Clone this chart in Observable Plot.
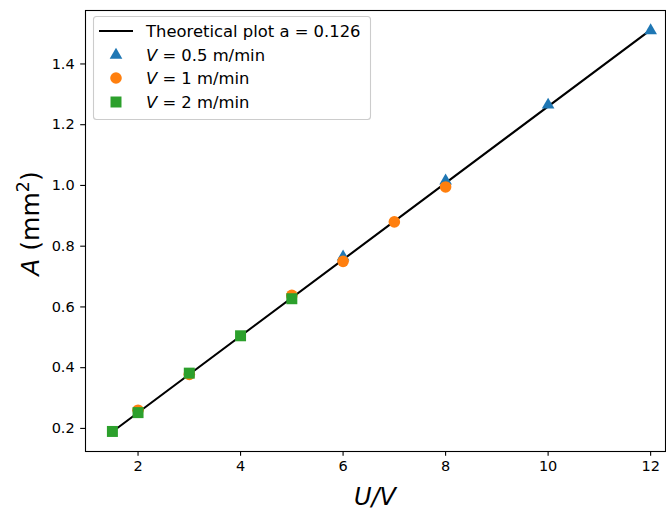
<!DOCTYPE html>
<html>
<head>
<meta charset="utf-8">
<script src="https://cdn.jsdelivr.net/npm/d3@7"></script>
<script src="https://cdn.jsdelivr.net/npm/@observablehq/plot@0.6"></script>
<style>
  body { margin: 0; background: #fff; }
  #chart svg { display: block; }
</style>
</head>
<body>
<div id="chart"></div>
<script>
// Slope of the theoretical relation A = a * (U/V)
const a = 0.126;
const theoryU = [1.5, 12];

// Measured cross-sections A (mm²) against U/V for each feed speed
const slowU = [6, 8, 10, 12];                 // V = 0.5 m/min
const slowA = [0.765, 1.015, 1.265, 1.51];
const midU = [2, 3, 5, 6, 7, 8];              // V = 1 m/min
const midA = [0.26, 0.378, 0.638, 0.75, 0.88, 0.995];
const fastU = [1.5, 2, 3, 4, 5];              // V = 2 m/min
const fastA = [0.19, 0.252, 0.382, 0.505, 0.627];

const xTicks = [2, 4, 6, 8, 10, 12];
const yTicks = [0.2, 0.4, 0.6, 0.8, 1.0, 1.2, 1.4];

const seriesNames = ["0.5", "1", "2"];
const colors = ["#1f77b4", "#ff7f0e", "#2ca02c"];

const theory = theoryU.map(u => ({u, A: a * u}));
const toRows = (us, as) => us.map((u, i) => ({u, A: as[i]}));
const slow = toRows(slowU, slowA);
const mid = toRows(midU, midA);
const fast = toRows(fastU, fastA);

const font = "DejaVu Sans, sans-serif";

const plot = Plot.plot({
  width: 666,
  height: 511,
  marginLeft: 85,
  marginRight: 1,
  marginTop: 10,
  marginBottom: 60,
  style: {fontFamily: font, fontSize: "14.5px", color: "#000", background: "#fff", overflow: "visible"},
  x: {domain: [0.975, 12.29]},
  y: {domain: [0.124, 1.576]},
  marks: [
    Plot.axisX(xTicks, {tickSize: 4.8, tickPadding: 4, strokeWidth: 1.1, label: null, fontSize: 14.5}),
    Plot.axisY(yTicks, {tickSize: 4.8, tickPadding: 6, strokeWidth: 1.1, tickFormat: d3.format(".1f"), label: null, fontSize: 14.5}),
    Plot.line(theory, {x: "u", y: "A", stroke: "#000", strokeWidth: 2.1}),
    Plot.dot(slow, {x: "u", y: "A", symbol: "triangle", r: 4.7, fill: colors[0]}),
    Plot.dot(mid, {x: "u", y: "A", symbol: "circle", r: 5.8, fill: colors[1]}),
    Plot.dot(fast, {x: "u", y: "A", symbol: "square", r: 6.2, fill: colors[2]}),
    Plot.frame({stroke: "#000", strokeWidth: 1.1})
  ]
});

document.getElementById("chart").appendChild(plot);

// Axis titles with mathtext-style italics and superscript
const svg = d3.select(plot);
const xs = plot.scale("x"), ys = plot.scale("y");
const cx = (xs.range[0] + xs.range[1]) / 2;
const cy = (ys.range[0] + ys.range[1]) / 2;

svg.append("text")
  .attr("x", cx).attr("y", 505)
  .attr("text-anchor", "middle")
  .attr("font-family", font).attr("font-size", 24)
  .attr("font-style", "italic")
  .text("U/V");

const yl = svg.append("text")
  .attr("transform", `translate(39,${cy - 7}) rotate(-90)`)
  .attr("text-anchor", "middle")
  .attr("font-family", font).attr("font-size", 25);
yl.append("tspan").attr("font-style", "italic").text("A");
yl.append("tspan").text(" (mm");
yl.append("tspan").attr("font-size", 17.5).attr("dy", -10).text("2");
yl.append("tspan").attr("dy", 10).text(")");

// Legend
const lg = svg.append("g")
  .attr("font-family", font).attr("font-size", 16.4).attr("text-anchor", "start");
lg.append("rect")
  .attr("x", 93.5).attr("y", 16.5).attr("width", 277).attr("height", 103).attr("rx", 3)
  .attr("fill", "#fff").attr("fill-opacity", 0.8).attr("stroke", "#cccccc").attr("stroke-width", 1.1);

const rowY = [31, 55, 78, 102];
lg.append("line").attr("x1", 99).attr("x2", 133).attr("y1", rowY[0]).attr("y2", rowY[0])
  .attr("stroke", "#000").attr("stroke-width", 2.1);
lg.append("text").attr("x", 146).attr("y", rowY[0] + 6).text(`Theoretical plot a = ${a}`);

const symbols = [[d3.symbolTriangle, 4.7], [d3.symbolCircle, 5.8], [d3.symbolSquare, 6.2]];
seriesNames.forEach((name, i) => {
  const [sym, r] = symbols[i];
  lg.append("path")
    .attr("transform", `translate(116,${rowY[i + 1]})`)
    .attr("d", d3.symbol(sym, r * r * Math.PI)())
    .attr("fill", colors[i]);
  const t = lg.append("text").attr("x", 146).attr("y", rowY[i + 1] + 6);
  t.append("tspan").attr("font-style", "italic").text("V");
  t.append("tspan").text(` = ${name} m/min`);
});
</script>
</body>
</html>
